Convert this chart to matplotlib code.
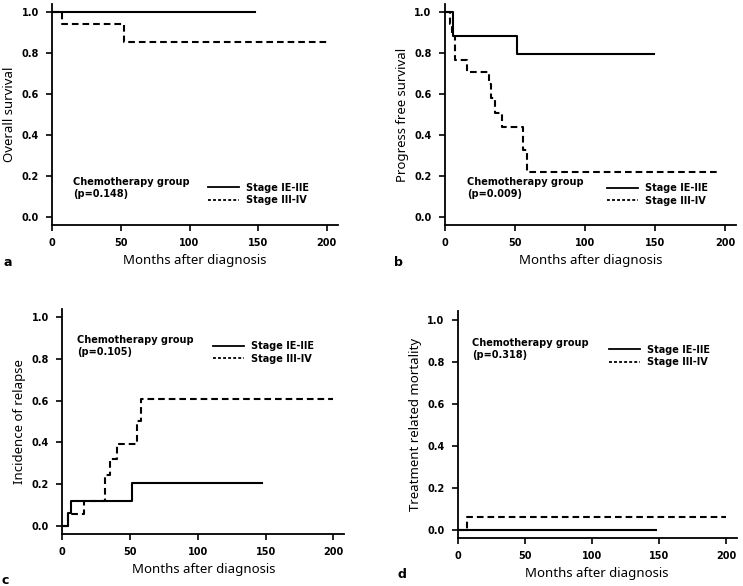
import matplotlib
matplotlib.use('Agg')
import matplotlib.pyplot as plt
from matplotlib.lines import Line2D

# a: overall survival
os_t_early = [0, 148]
os_s_early = [1.0, 1.0]
os_t_adv = [0, 7, 52, 200]
os_s_adv = [1.0, 0.944, 0.857, 0.857]

# b: progression free survival
pfs_t_early = [0, 6.2, 51.3, 149]
pfs_s_early = [1.0, 0.882, 0.794, 0.794]
pfs_t_adv = [0, 4.0, 5.5, 7.4, 15.8, 31.6, 32.8, 35.8, 40.6, 56.0, 58.9, 194]
pfs_s_adv = [1.0, 0.944, 0.882, 0.765, 0.706, 0.647, 0.582, 0.509, 0.437, 0.327, 0.218, 0.218]

# c: incidence of relapse
rel_t_early = [0, 4.4, 6.2, 51.2, 147.6]
rel_s_early = [0, 0.059, 0.118, 0.206, 0.206]
rel_t_adv = [0, 4.5, 16.2, 31.3, 35.0, 40.5, 55.2, 58.3, 200]
rel_s_adv = [0, 0.056, 0.118, 0.244, 0.321, 0.393, 0.50, 0.607, 0.607]

# d: treatment related mortality
trm_t_early = [0, 148]
trm_s_early = [0, 0]
trm_t_adv = [0, 6.7, 200]
trm_s_adv = [0, 0.06, 0.06]

panels = [
    ('a', 'Overall survival', '(p=0.148)', os_t_early, os_s_early, os_t_adv, os_s_adv,
     [0.0704, 0.6162, 0.3841, 0.3768], (15.3, 0.142), (113.5, 0.112)),
    ('b', 'Progress free survival', '(p=0.009)', pfs_t_early, pfs_s_early, pfs_t_adv, pfs_s_adv,
     [0.5985, 0.6162, 0.3927, 0.3768], (15.9, 0.140), (115.7, 0.109)),
    ('c', 'Incidence of relapse', '(p=0.105)', rel_t_early, rel_s_early, rel_t_adv, rel_s_adv,
     [0.0839, 0.0887, 0.3794, 0.3845], (10.6, 0.862), (111.4, 0.831)),
    ('d', 'Treatment related mortality', '(p=0.318)', trm_t_early, trm_s_early, trm_t_adv, trm_s_adv,
     [0.6160, 0.0817, 0.3755, 0.3868], (10.7, 0.860), (113.0, 0.829)),
]

letter_pos = {'a': (4, 262), 'b': (394, 262), 'c': (2, 580), 'd': (397, 575)}

fig = plt.figure(figsize=(7.43, 5.86), dpi=100)
dash = (3.2, 1.9)

for letter, ylab, ptxt, te, se, ta, sa, rect, txt_xy, leg_xy in panels:
    ax = fig.add_axes(rect)
    ax.step(ta, sa, where='post', color='black', lw=1.5, linestyle=(0, dash))
    ax.step(te, se, where='post', color='black', lw=1.5)
    ax.set_xlim(0, 208)
    ax.set_ylim(-0.04, 1.04)
    ax.spines['top'].set_visible(False)
    ax.spines['right'].set_visible(False)
    for s in ('left', 'bottom'):
        ax.spines[s].set_linewidth(1.3)
    ax.set_xticks([0, 50, 100, 150, 200])
    ax.set_yticks([0, 0.2, 0.4, 0.6, 0.8, 1.0])
    ax.set_yticklabels(['0.0', '0.2', '0.4', '0.6', '0.8', '1.0'])
    ax.tick_params(direction='out', length=4, width=1.2, labelsize=7, pad=5.5)
    for lab in ax.get_xticklabels() + ax.get_yticklabels():
        lab.set_fontweight('bold')
    ax.set_xlabel('Months after diagnosis', fontsize=9.5, family='Noto Sans', labelpad=4)
    ax.set_ylabel(ylab, fontsize=9.5, family='Noto Sans', labelpad=4)

    ax.text(txt_xy[0], txt_xy[1], 'Chemotherapy group\n' + ptxt, fontsize=7,
            fontweight='bold', va='center', ha='left', linespacing=1.25)
    handles = [Line2D([], [], color='black', lw=1.3),
               Line2D([], [], color='black', lw=1.3, linestyle=(0, (1.6, 1.2)))]
    ax.legend(handles, ['Stage IE-IIE', 'Stage III-IV'], loc='center left',
              bbox_to_anchor=leg_xy, bbox_transform=ax.transData, frameon=False,
              handlelength=3.2, handletextpad=0.7, labelspacing=0.25,
              borderpad=0, borderaxespad=0, prop={'size': 7, 'weight': 'bold'})

    fig.text(letter_pos[letter][0] / 743, 1 - letter_pos[letter][1] / 586, letter,
             fontsize=9, fontweight='bold', va='center', ha='left')

fig.savefig('out.png', dpi=100)
